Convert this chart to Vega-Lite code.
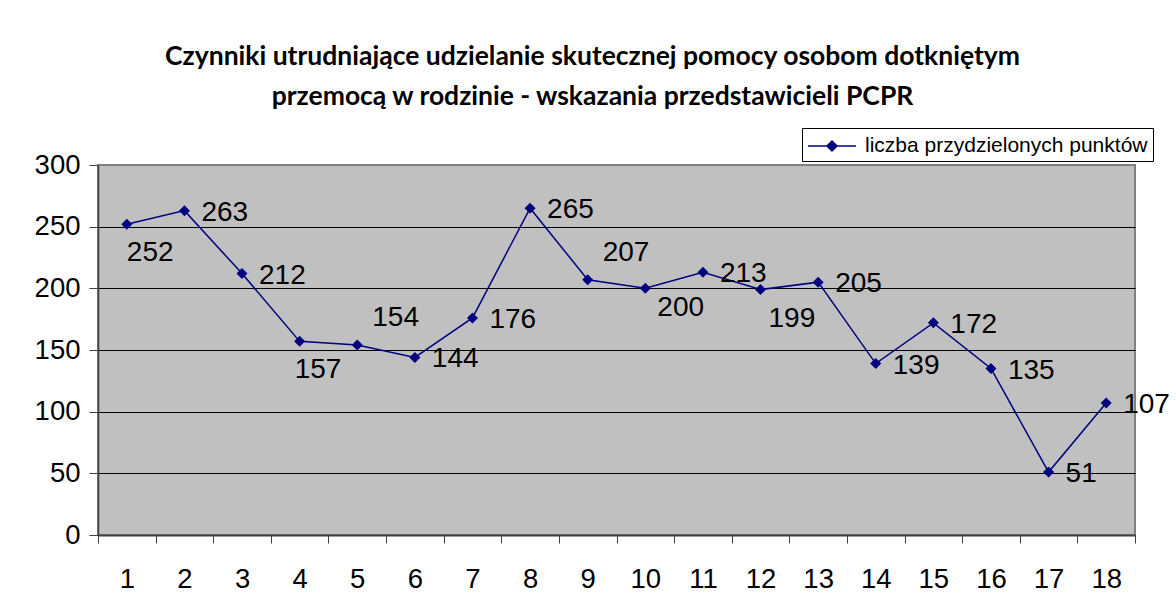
{
  "$schema": "https://vega.github.io/schema/vega-lite/v6.json",
  "width": 1037,
  "height": 370,
  "autosize": {"type": "none"},
  "padding": {"left": 98, "top": 165, "right": 41, "bottom": 73},
  "background": "white",
  "title": {
    "text": ["Czynniki utrudniające udzielanie skutecznej pomocy osobom dotkniętym", "przemocą w rodzinie - wskazania przedstawicieli PCPR"],
    "font": "Lato",
    "fontSize": 26.5,
    "fontWeight": "bold",
    "color": "black",
    "lineHeight": 40,
    "anchor": "middle",
    "offset": 17,
    "dx": -24
  },
  "data": {
    "values": [
      {"nr": 1, "punkty": 252},
      {"nr": 2, "punkty": 263},
      {"nr": 3, "punkty": 212},
      {"nr": 4, "punkty": 157},
      {"nr": 5, "punkty": 154},
      {"nr": 6, "punkty": 144},
      {"nr": 7, "punkty": 176},
      {"nr": 8, "punkty": 265},
      {"nr": 9, "punkty": 207},
      {"nr": 10, "punkty": 200},
      {"nr": 11, "punkty": 213},
      {"nr": 12, "punkty": 199},
      {"nr": 13, "punkty": 205},
      {"nr": 14, "punkty": 139},
      {"nr": 15, "punkty": 172},
      {"nr": 16, "punkty": 135},
      {"nr": 17, "punkty": 51},
      {"nr": 18, "punkty": 107}
    ]
  },
  "encoding": {
    "x": {
      "field": "nr",
      "type": "ordinal",
      "scale": {"paddingInner": 0, "paddingOuter": 0},
      "axis": {
        "title": null,
        "labelAngle": 0,
        "tickBand": "extent",
        "grid": false,
        "tickSize": 8,
        "tickColor": "#404040",
        "domainColor": "#404040",
        "domainWidth": 2,
        "labelFont": "Liberation Sans",
        "labelFontSize": 27.5,
        "labelColor": "black",
        "labelPadding": 22
      }
    },
    "y": {
      "field": "punkty",
      "type": "quantitative",
      "scale": {"domain": [0, 300]},
      "axis": {
        "title": null,
        "values": [0, 50, 100, 150, 200, 250, 300],
        "grid": true,
        "gridColor": {"condition": {"test": "datum.value === 300", "value": "#808080"}, "value": "#000000"},
        "gridWidth": 1,
        "domainColor": "#404040",
        "domainWidth": 1.5,
        "tickColor": "#404040",
        "tickSize": 9,
        "labelFont": "Liberation Sans",
        "labelFontSize": 27.5,
        "labelColor": "black",
        "labelPadding": 9
      }
    }
  },
  "layer": [
    {
      "mark": {"type": "line", "strokeWidth": 1.5},
      "encoding": {
        "color": {
          "datum": "liczba przydzielonych punktów",
          "scale": {"range": ["#000080"]},
          "legend": {
            "title": null,
            "orient": "none",
            "legendX": 704,
            "legendY": -37,
            "strokeColor": "#000000",
            "fillColor": "white",
            "padding": 5,
            "cornerRadius": 0,
            "symbolType": "M-1,0H3M1,-0.42L1.42,0L1,0.42L0.58,0Z",
            "symbolSize": 576,
            "labelFont": "Liberation Sans",
            "labelFontSize": 21,
            "labelColor": "black",
            "labelOffset": 32,
            "labelLimit": 500,
            "encode": {
              "symbols": {
                "update": {
                  "fill": {"value": "#000080"},
                  "stroke": {"value": "#000080"},
                  "strokeWidth": {"value": 1.5},
                  "opacity": {"value": 1}
                }
              }
            }
          }
        }
      }
    },
    {
      "mark": {"type": "point", "shape": "diamond", "filled": true, "size": 121, "color": "#000080", "opacity": 1}
    },
    {
      "transform": [{"filter": {"not": {"field": "nr", "oneOf": [1, 4, 5, 9, 10, 12]}}}],
      "mark": {"type": "text", "align": "left", "baseline": "middle", "font": "Liberation Sans", "fontSize": 28, "color": "black", "dx": 17, "dy": 2},
      "encoding": {"text": {"field": "punkty"}}
    },
    {
      "transform": [{"filter": {"field": "nr", "oneOf": [1]}}],
      "mark": {"type": "text", "align": "left", "baseline": "middle", "font": "Liberation Sans", "fontSize": 28, "color": "black", "dx": 0, "dy": 29},
      "encoding": {"text": {"field": "punkty"}}
    },
    {
      "transform": [{"filter": {"field": "nr", "oneOf": [4]}}],
      "mark": {"type": "text", "align": "left", "baseline": "middle", "font": "Liberation Sans", "fontSize": 28, "color": "black", "dx": -5, "dy": 29},
      "encoding": {"text": {"field": "punkty"}}
    },
    {
      "transform": [{"filter": {"field": "nr", "oneOf": [12]}}],
      "mark": {"type": "text", "align": "left", "baseline": "middle", "font": "Liberation Sans", "fontSize": 28, "color": "black", "dx": 8, "dy": 29},
      "encoding": {"text": {"field": "punkty"}}
    },
    {
      "transform": [{"filter": {"field": "nr", "oneOf": [5, 9]}}],
      "mark": {"type": "text", "align": "left", "baseline": "middle", "font": "Liberation Sans", "fontSize": 28, "color": "black", "dx": 15, "dy": -27},
      "encoding": {"text": {"field": "punkty"}}
    },
    {
      "transform": [{"filter": {"field": "nr", "oneOf": [10]}}],
      "mark": {"type": "text", "align": "left", "baseline": "middle", "font": "Liberation Sans", "fontSize": 28, "color": "black", "dx": 12, "dy": 20},
      "encoding": {"text": {"field": "punkty"}}
    }
  ],
  "config": {
    "view": {"fill": "#C0C0C0", "stroke": "#808080", "strokeWidth": 2}
  }
}
